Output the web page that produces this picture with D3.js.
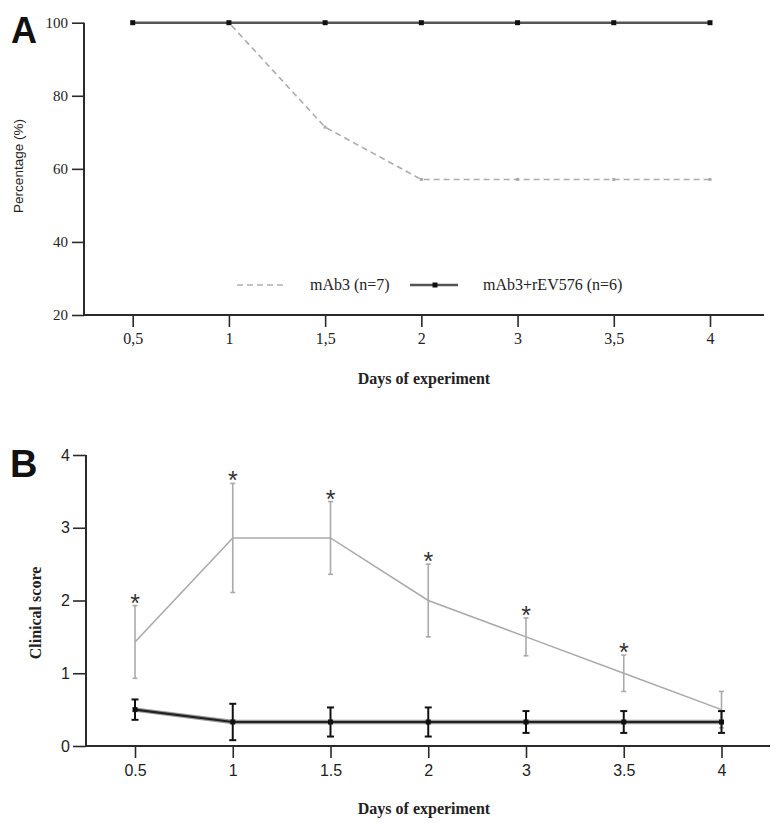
<!DOCTYPE html>
<html>
<head>
<meta charset="utf-8">
<script src="https://cdn.jsdelivr.net/npm/d3@7"></script>
<style>
  html, body { margin: 0; padding: 0; background: #fff; }
  svg { display: block; }
</style>
</head>
<body>
<script>
// ---------- data ----------
const categoriesA = ["0,5", "1", "1,5", "2", "3", "3,5", "4"];
const categoriesB = ["0.5", "1", "1.5", "2", "3", "3.5", "4"];
const seriesNames = ["mAb3 (n=7)", "mAb3+rEV576 (n=6)"];

const survivalMAb3 = [100, 100, 71.4, 57.1, 57.1, 57.1, 57.1];
const survivalCombo = [100, 100, 100, 100, 100, 100, 100];
const yTicksA = [20, 40, 60, 80, 100];

const scoreMAb3 = [1.43, 2.86, 2.86, 2.0, 1.5, 1.0, 0.5];
const errMAb3 = [0.5, 0.75, 0.5, 0.5, 0.26, 0.25, 0.25];
const scoreCombo = [0.5, 0.33, 0.33, 0.33, 0.33, 0.33, 0.33];
const errCombo = [0.14, 0.25, 0.2, 0.2, 0.15, 0.15, 0.15];
const significant = [true, true, true, true, true, true, false];
const yTicksB = [0, 1, 2, 3, 4];

// ---------- setup ----------
const W = 778, H = 825;
const serif = "'Liberation Serif', 'Times New Roman', serif";
const sans = "'Liberation Sans', Arial, sans-serif";
const axisColor = "#2a2a2a";
const svg = d3.select("body").append("svg").attr("width", W).attr("height", H);

function styleAxis(g, font, size) {
  g.selectAll(".domain").remove();
  g.selectAll(".tick line").attr("stroke", axisColor).attr("stroke-width", 1.6);
  g.selectAll(".tick text").attr("font-family", font).attr("font-size", size).attr("fill", "#222");
}

// ================= Panel A =================
const xA = d3.scalePoint().domain(categoriesA).range([132.7, 710]);
const yA = d3.scaleLinear().domain([20, 100]).range([315, 22.7]);
const gA = svg.append("g");

gA.append("g").attr("transform", "translate(84,0)")
  .call(d3.axisLeft(yA).tickValues(yTicksA).tickSize(12).tickPadding(4).tickSizeOuter(0))
  .call(g => styleAxis(g, serif, 15));
gA.append("g").attr("transform", "translate(0,315)")
  .call(d3.axisBottom(xA).tickSize(12).tickPadding(6))
  .call(g => styleAxis(g, serif, 16));
gA.append("line").attr("x1", 84).attr("x2", 84).attr("y1", yA(100)).attr("y2", yA(20))
  .attr("stroke", axisColor).attr("stroke-width", 2);
gA.append("line").attr("x1", 83).attr("x2", 764).attr("y1", yA(20)).attr("y2", yA(20))
  .attr("stroke", axisColor).attr("stroke-width", 2);

const lineA = d3.line().x((d, i) => xA(categoriesA[i])).y(d => yA(d));
gA.append("path").datum(survivalMAb3).attr("d", lineA)
  .attr("fill", "none").attr("stroke", "#acacac").attr("stroke-width", 1.6).attr("stroke-dasharray", "6,4");
gA.selectAll(".mA").data(survivalMAb3).enter().append("rect")
  .attr("x", (d, i) => xA(categoriesA[i]) - 1.5).attr("y", d => yA(d) - 1.5)
  .attr("width", 3).attr("height", 3).attr("fill", "#aaa");
gA.append("path").datum(survivalCombo).attr("d", lineA)
  .attr("fill", "none").attr("stroke", "#555").attr("stroke-width", 2.6);
gA.selectAll(".cA").data(survivalCombo).enter().append("rect")
  .attr("x", (d, i) => xA(categoriesA[i]) - 2.5).attr("y", d => yA(d) - 2.5)
  .attr("width", 5).attr("height", 5).attr("fill", "#111");

// legend
const legY = 285;
gA.append("line").attr("x1", 237).attr("x2", 283).attr("y1", legY).attr("y2", legY)
  .attr("stroke", "#b0b0b0").attr("stroke-width", 1.6).attr("stroke-dasharray", "6,4");
gA.append("text").attr("x", 310).attr("y", legY + 5).text(seriesNames[0])
  .attr("font-family", serif).attr("font-size", 16).attr("fill", "#222");
gA.append("line").attr("x1", 410).attr("x2", 458).attr("y1", legY).attr("y2", legY)
  .attr("stroke", "#555").attr("stroke-width", 2.6);
gA.append("rect").attr("x", 432.5).attr("y", legY - 2.5).attr("width", 5).attr("height", 5).attr("fill", "#111");
gA.append("text").attr("x", 483).attr("y", legY + 5).text(seriesNames[1])
  .attr("font-family", serif).attr("font-size", 16).attr("fill", "#222");

// titles
gA.append("text").attr("x", 424).attr("y", 384).attr("text-anchor", "middle")
  .text("Days of experiment").attr("font-family", serif).attr("font-size", 16)
  .attr("font-weight", "bold").attr("fill", "#222");
gA.append("text").attr("transform", "translate(23,166) rotate(-90)").attr("text-anchor", "middle")
  .text("Percentage (%)").attr("font-family", sans).attr("font-size", 13.5).attr("fill", "#222");
gA.append("text").attr("x", 11).attr("y", 43).text("A")
  .attr("font-family", sans).attr("font-size", 36).attr("font-weight", "bold").attr("fill", "#111");

// ================= Panel B =================
const xB = d3.scalePoint().domain(categoriesB).range([135, 721.5]);
const yB = d3.scaleLinear().domain([0, 4]).range([746, 455]);
const gB = svg.append("g");

gB.append("g").attr("transform", "translate(86,0)")
  .call(d3.axisLeft(yB).tickValues(yTicksB).tickFormat(d3.format("d")).tickSize(13).tickPadding(3).tickSizeOuter(0))
  .call(g => styleAxis(g, sans, 16));
gB.append("g").attr("transform", "translate(0,746)")
  .call(d3.axisBottom(xB).tickSize(12).tickPadding(7))
  .call(g => styleAxis(g, sans, 16));
gB.append("line").attr("x1", 86).attr("x2", 86).attr("y1", yB(4)).attr("y2", yB(0))
  .attr("stroke", axisColor).attr("stroke-width", 2);
gB.append("line").attr("x1", 85).attr("x2", 770).attr("y1", yB(0)).attr("y2", yB(0))
  .attr("stroke", axisColor).attr("stroke-width", 2);

const lineB = d3.line().x((d, i) => xB(categoriesB[i])).y(d => yB(d));

// mAb3 series (grey)
gB.append("path").datum(scoreMAb3).attr("d", lineB)
  .attr("fill", "none").attr("stroke", "#aaa").attr("stroke-width", 1.6);
const errG = gB.append("g");
scoreMAb3.forEach((v, i) => {
  const x = xB(categoriesB[i]);
  const t = yB(v + errMAb3[i]), b = yB(v - errMAb3[i]);
  errG.append("line").attr("x1", x).attr("x2", x).attr("y1", t).attr("y2", b).attr("stroke", "#aaa").attr("stroke-width", 1.6);
  errG.append("line").attr("x1", x - 2.5).attr("x2", x + 2.5).attr("y1", t).attr("y2", t).attr("stroke", "#aaa").attr("stroke-width", 1.6);
  errG.append("line").attr("x1", x - 2.5).attr("x2", x + 2.5).attr("y1", b).attr("y2", b).attr("stroke", "#aaa").attr("stroke-width", 1.6);
  if (significant[i]) {
    errG.append("text").attr("x", x).attr("y", t + 6).attr("text-anchor", "middle").text("*")
      .attr("font-family", sans).attr("font-size", 25).attr("fill", "#333");
  }
});

// combo series (black)
gB.append("path").datum(scoreCombo).attr("d", lineB)
  .attr("fill", "none").attr("stroke", "#999").attr("stroke-width", 4.5);
gB.append("path").datum(scoreCombo).attr("d", lineB)
  .attr("fill", "none").attr("stroke", "#222").attr("stroke-width", 2.2);
scoreCombo.forEach((v, i) => {
  const x = xB(categoriesB[i]);
  const t = yB(v + errCombo[i]), b = yB(v - errCombo[i]);
  gB.append("line").attr("x1", x).attr("x2", x).attr("y1", t).attr("y2", b).attr("stroke", "#111").attr("stroke-width", 2);
  gB.append("line").attr("x1", x - 3.5).attr("x2", x + 3.5).attr("y1", t).attr("y2", t).attr("stroke", "#111").attr("stroke-width", 2);
  gB.append("line").attr("x1", x - 3.5).attr("x2", x + 3.5).attr("y1", b).attr("y2", b).attr("stroke", "#111").attr("stroke-width", 2);
  gB.append("rect").attr("x", x - 2.5).attr("y", yB(v) - 2.5).attr("width", 5).attr("height", 5).attr("fill", "#111");
});

// titles
gB.append("text").attr("x", 424).attr("y", 814).attr("text-anchor", "middle")
  .text("Days of experiment").attr("font-family", serif).attr("font-size", 16)
  .attr("font-weight", "bold").attr("fill", "#222");
gB.append("text").attr("transform", "translate(41,613) rotate(-90)").attr("text-anchor", "middle")
  .text("Clinical score").attr("font-family", serif).attr("font-size", 16)
  .attr("font-weight", "bold").attr("fill", "#222");
gB.append("text").attr("x", 10).attr("y", 477).text("B")
  .attr("font-family", sans).attr("font-size", 38).attr("font-weight", "bold").attr("fill", "#111");
</script>
</body>
</html>
